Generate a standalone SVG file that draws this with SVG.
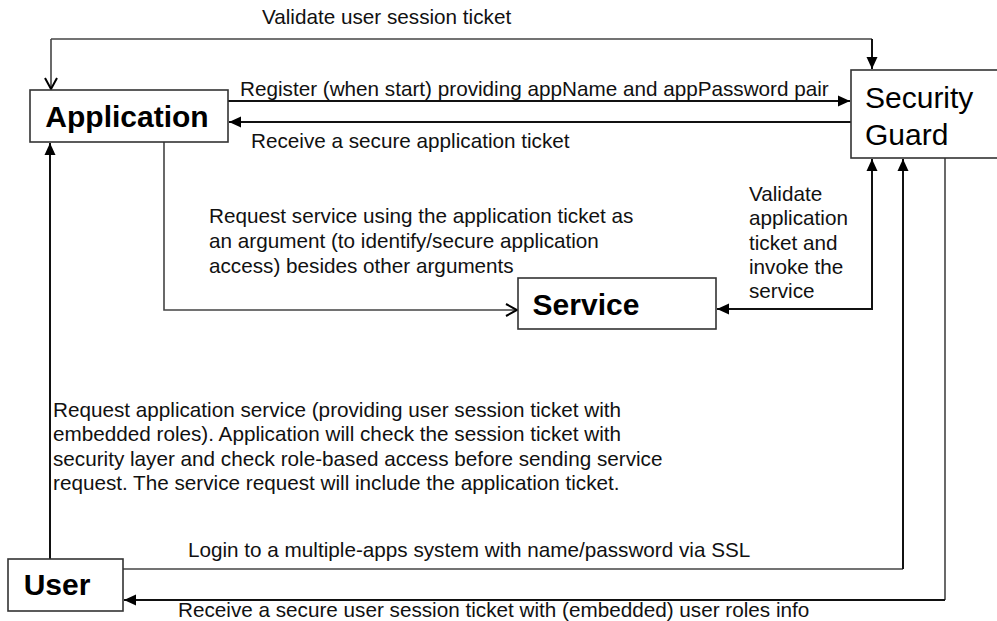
<svg xmlns="http://www.w3.org/2000/svg" width="997" height="621" viewBox="0 0 997 621">
  <style>
    .node rect { fill: #fff; stroke: #333; stroke-width: 1.6; }
    .title { font-family: "Liberation Sans", Arial, sans-serif; font-size: 30px; fill: #000; }
    .bold { font-weight: bold; }
    .label { font-family: "Liberation Sans", Arial, sans-serif; font-size: 20.7px; fill: #111; }
    .wire { fill: none; stroke: #111; stroke-width: 2; }
    .thin { fill: none; stroke: #444; stroke-width: 1.6; }
  </style>
  <defs>
    <marker id="head" markerUnits="userSpaceOnUse" markerWidth="13" markerHeight="12" refX="12" refY="6" orient="auto-start-reverse">
      <path d="M0,0.5 L12,6 L0,11.5 z" fill="#000"/>
    </marker>
    <marker id="open" markerUnits="userSpaceOnUse" markerWidth="14" markerHeight="14" refX="12" refY="7" orient="auto">
      <path d="M1,1 L12,7 L1,13" fill="none" stroke="#000" stroke-width="2"/>
    </marker>
  </defs>

  <rect width="997" height="621" fill="#fff"/>

  <!-- connectors -->
  <g id="connectors">
    <!-- session validation loop between Application and Security Guard -->
    <path class="thin" d="M51,39 H872"/>
    <path class="thin" d="M51,39 V89" marker-end="url(#open)"/>
    <path class="wire" d="M872,39 V69" marker-end="url(#head)"/>
    <!-- registration and application ticket -->
    <path class="wire" d="M228,101 H850" marker-end="url(#head)"/>
    <path class="wire" d="M851,122 H229" marker-end="url(#head)"/>
    <!-- Application to Service request -->
    <path class="thin" d="M164,142 V310 H517" marker-end="url(#open)"/>
    <!-- Service / Security Guard validation -->
    <path class="wire" d="M717,309 H872 V159" marker-start="url(#head)" marker-end="url(#head)"/>
    <!-- User requests the Application -->
    <path class="wire" d="M50,559 V143" marker-end="url(#head)"/>
    <!-- login and user session ticket -->
    <path class="thin" d="M123,569 H903"/>
    <path class="wire" d="M903,569 V159" marker-end="url(#head)"/>
    <path class="thin" d="M945,158 V600"/>
    <path class="wire" d="M945,600 H124" marker-end="url(#head)"/>
  </g>

  <!-- connector labels -->
  <g id="labels" class="label">
    <text x="262" y="24">Validate user session ticket</text>
    <text x="240" y="96">Register (when start) providing appName and appPassword pair</text>
    <text x="251" y="148">Receive a secure application ticket</text>
    <text x="209" y="223">Request service using the application ticket as</text>
    <text x="209" y="248">an argument (to identify/secure application</text>
    <text x="209" y="273">access) besides other arguments</text>
    <text x="749" y="201">Validate</text>
    <text x="749" y="225">application</text>
    <text x="749" y="250">ticket and</text>
    <text x="749" y="274">invoke the</text>
    <text x="749" y="298">service</text>
    <text x="53" y="417">Request application service (providing user session ticket with</text>
    <text x="53" y="441">embedded roles). Application will check the session ticket with</text>
    <text x="53" y="466">security layer and check role-based access before sending service</text>
    <text x="53" y="490">request. The service request will include the application ticket.</text>
    <text x="188" y="557">Login to a multiple-apps system with name/password via SSL</text>
    <text x="178" y="617">Receive a secure user session ticket with (embedded) user roles info</text>
  </g>

  <!-- nodes -->
  <g id="application" class="node">
    <rect x="30" y="90" width="198" height="52"/>
    <text class="title bold" x="127" y="127" text-anchor="middle">Application</text>
  </g>
  <g id="security-guard" class="node">
    <rect x="851" y="70" width="160" height="88"/>
    <text class="title" x="865" y="108">Security</text>
    <text class="title" x="865" y="145">Guard</text>
  </g>
  <g id="service" class="node">
    <rect x="518" y="278" width="198" height="51"/>
    <text class="title bold" x="586" y="315" text-anchor="middle">Service</text>
  </g>
  <g id="user" class="node">
    <rect x="8" y="559" width="115" height="52"/>
    <text class="title bold" x="57" y="595" text-anchor="middle">User</text>
  </g>
</svg>
